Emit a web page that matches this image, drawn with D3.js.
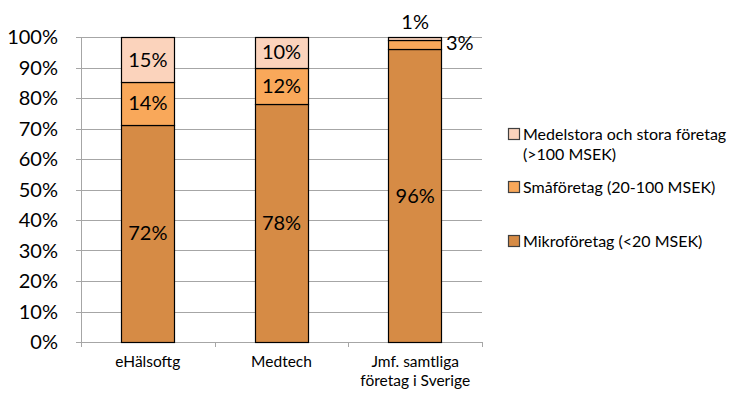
<!DOCTYPE html>
<html><head><meta charset="utf-8">
<script src="https://cdn.jsdelivr.net/npm/d3@7"></script>
<style>
body{margin:0;background:#fff;}
svg{display:block;font-family:Lato, "Open Sans", sans-serif;}
</style></head>
<body>
<svg id="c" width="736" height="394"></svg>
<script>
const categories = ["eHälsoftg", "Medtech", "Jmf. samtliga\nföretag i Sverige"];
const seriesNames = ["Mikroföretag (<20 MSEK)", "Småföretag (20-100 MSEK)", "Medelstora och stora företag\n(>100 MSEK)"];
const mikro = [72, 78, 96];
const sma = [14, 12, 3];
const medel = [15, 10, 1];
const yTicks = [0, 0.1, 0.2, 0.3, 0.4, 0.5, 0.6, 0.7, 0.8, 0.9, 1.0];
const colors = ["#D68B45", "#F9A85A", "#FBD3BC"];

const rows = categories.map((c, i) => ({cat: c, s0: mikro[i], s1: sma[i], s2: medel[i]}));
const keys = ["s0", "s1", "s2"];
const stack = d3.stack().keys(keys).offset(d3.stackOffsetExpand)(rows);

const svg = d3.select("#c");
const m = {l: 81, r: 254, t: 37, b: 52};
const W = 736, H = 394;
const x = d3.scaleBand().domain(categories).range([m.l, W - m.r]).paddingInner(0.6).paddingOuter(0.3);
const y = d3.scaleLinear().domain([0, 1]).range([H - m.b, m.t]);

// gridlines
svg.append("g").selectAll("line").data(yTicks).join("line")
  .attr("x1", m.l - 5).attr("x2", W - m.r)
  .attr("y1", d => Math.round(y(d)) + 0.5).attr("y2", d => Math.round(y(d)) + 0.5)
  .attr("stroke", "#A6A6A6").attr("stroke-width", 1);
// y axis line
svg.append("line").attr("x1", m.l + 0.5).attr("x2", m.l + 0.5)
  .attr("y1", y(1)).attr("y2", y(0)).attr("stroke", "#A6A6A6");
// x ticks
const xb = d3.range(categories.length + 1).map(i => m.l + i * (W - m.r - m.l) / categories.length);
svg.append("g").selectAll("line").data(xb).join("line")
  .attr("x1", d => Math.round(d) + 0.5).attr("x2", d => Math.round(d) + 0.5)
  .attr("y1", y(0)).attr("y2", y(0) + 5).attr("stroke", "#A6A6A6");

// y labels
svg.append("g").selectAll("text").data(yTicks).join("text")
  .attr("x", 58).attr("y", d => y(d)).attr("dy", "0.35em")
  .attr("text-anchor", "end").attr("font-size", 20).attr("fill", "#000")
  .text(d => d3.format(".0%")(d));

// bars
const layers = svg.append("g").selectAll("g").data(stack).join("g")
  .attr("fill", (d, i) => colors[i]);
layers.selectAll("rect").data(d => d).join("rect")
  .attr("x", d => Math.round(x(d.data.cat)) + 0.5)
  .attr("y", d => Math.round(y(d[1])) + 0.5)
  .attr("width", Math.round(x.bandwidth()))
  .attr("height", d => Math.round(y(d[0])) - Math.round(y(d[1])))
  .attr("stroke", "#000").attr("stroke-width", 1.2);

// data labels
const lab = svg.append("g").attr("font-size", 20).attr("fill", "#000");
stack.forEach((layer, li) => {
  layer.forEach((d, ci) => {
    const v = d.data[keys[li]];
    const cx = x(d.data.cat) + x.bandwidth() / 2;
    const cy = (y(d[0]) + y(d[1])) / 2;
    let tx = cx, ty = cy, anchor = "middle";
    if (v < 2) { ty = y(1) - 15; }
    else if (v < 5) { tx = x(d.data.cat) + x.bandwidth() + 4; ty = cy - 2; anchor = "start"; }
    lab.append("text").attr("x", tx).attr("y", ty).attr("dy", "0.35em")
      .attr("text-anchor", anchor).text(v + "%");
  });
});

// category labels
const cl = svg.append("g").attr("font-size", 15.5).attr("fill", "#000").attr("text-anchor", "middle");
categories.forEach(c => {
  const t = cl.append("text").attr("x", x(c) + x.bandwidth() / 2).attr("y", y(0) + 25);
  c.split("\n").forEach((ln, i) => t.append("tspan").attr("x", x(c) + x.bandwidth() / 2).attr("dy", i ? 19 : 0).text(ln));
});

// legend
const legOrder = [2, 1, 0];
const legY = [134, 187, 241];
const lg = svg.append("g").attr("font-size", 16).attr("fill", "#000");
legOrder.forEach((si, k) => {
  const g = lg.append("g");
  g.append("rect").attr("x", 508.5).attr("y", legY[k] - 5.5).attr("width", 11).attr("height", 11)
    .attr("fill", colors[si]).attr("stroke", "#404040").attr("stroke-width", 1.2);
  const t = g.append("text").attr("x", 523).attr("y", legY[k]);
  seriesNames[si].split("\n").forEach((ln, i) => t.append("tspan").attr("x", 523).attr("dy", i ? 20 : "0.35em").text(ln));
});
</script>
</body></html>
